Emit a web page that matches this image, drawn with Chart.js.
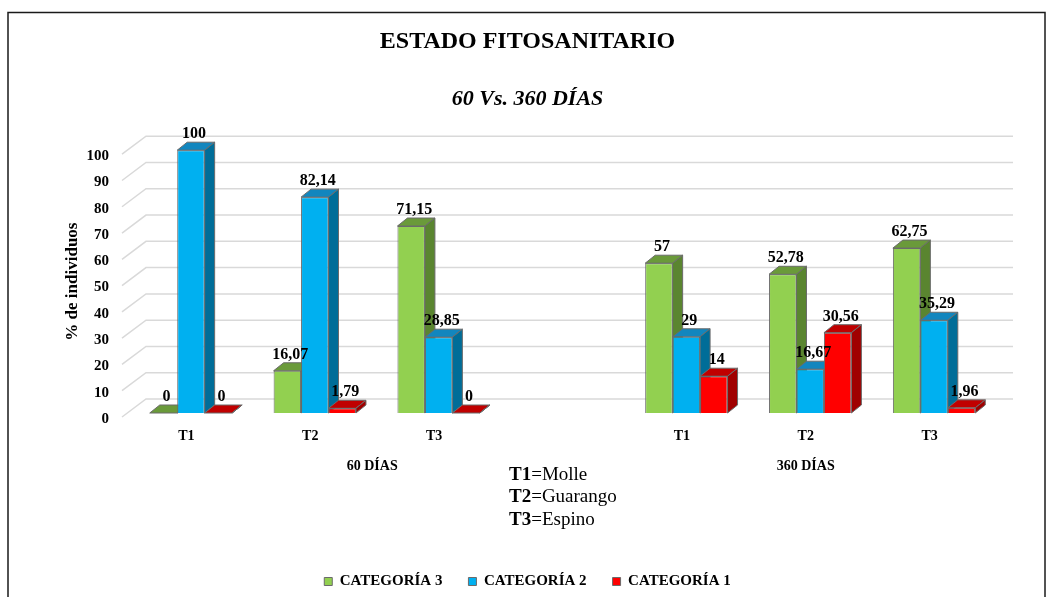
<!DOCTYPE html>
<html>
<head>
<meta charset="utf-8">
<title>Estado fitosanitario</title>
<script src="https://cdn.jsdelivr.net/npm/chart.js@4.4.1/dist/chart.umd.min.js"></script>
<style>
  html, body { margin: 0; padding: 0; background: #fff; }
  #wrap { width: 1055px; height: 597px; }
</style>
</head>
<body>
<div id="wrap"><canvas id="estadoChart"></canvas></div>
<script>
// datos
var categorias = ['T1', 'T2', 'T3', '', 'T1', 'T2', 'T3'];
var periodos = ['60 DÍAS', '360 DÍAS'];
var periodoCats = [4, 3];          // cuantas categorias abarca cada periodo
var cat3 = [0, 16.07, 71.15, null, 57, 52.78, 62.75];
var cat2 = [100, 82.14, 28.85, null, 29, 16.67, 35.29];
var cat1 = [0, 1.79, 0, null, 14, 30.56, 1.96];
var nombres = ['CATEGORÍA 3', 'CATEGORÍA 2', 'CATEGORÍA 1'];
var especies = [['T1', '=Molle'], ['T2', '=Guarango'], ['T3', '=Espino']];

var frente = ['#92D050', '#00B0F0', '#FF0000'];
var arriba = ['#6A9A3A', '#1286BE', '#C00000'];
var lado = ['#5A8530', '#006D98', '#A00000'];
var SERIF = '"Liberation Serif", "Times New Roman", serif';

// centros de cada periodo en unidades de categoria
var periodoCentros = [];
var acum = 0;
periodoCats.forEach(function (n) { periodoCentros.push(acum + n / 2); acum += n; });

var DX = 10, DY = 8;   // profundidad de las barras

var barras3d = {
  id: 'barras3d',
  beforeDatasetsDraw: function (chart) {
    var ctx = chart.ctx, a = chart.chartArea, y = chart.scales.y;
    ctx.save();
    // paredes / lineas de division
    ctx.strokeStyle = '#D9D9D9';
    ctx.lineWidth = 1.5;
    y.ticks.forEach(function (t) {
      var py = y.getPixelForValue(t.value);
      ctx.beginPath();
      ctx.moveTo(a.left - 7, py + 4);
      ctx.lineTo(a.left + 17, py - 14);
      ctx.lineTo(a.right + 17, py - 14);
      ctx.stroke();
    });
    // caras superior y lateral
    var lista = [];
    chart.data.datasets.forEach(function (ds, i) {
      chart.getDatasetMeta(i).data.forEach(function (b, j) {
        if (ds.data[j] === null) return;
        lista.push({ b: b, i: i });
      });
    });
    lista.sort(function (p, q) { return p.b.x - q.b.x; });
    ctx.strokeStyle = '#6B6B6B';
    ctx.lineWidth = 1;
    lista.forEach(function (it) {
      var b = it.b, w = b.width;
      var x0 = b.x - w / 2, x1 = b.x + w / 2, top = b.y, base = b.base;
      ctx.fillStyle = arriba[it.i];
      ctx.beginPath();
      ctx.moveTo(x0, top); ctx.lineTo(x0 + DX, top - DY);
      ctx.lineTo(x1 + DX, top - DY); ctx.lineTo(x1, top);
      ctx.closePath(); ctx.fill(); ctx.stroke();
      ctx.fillStyle = lado[it.i];
      ctx.beginPath();
      ctx.moveTo(x1, top); ctx.lineTo(x1 + DX, top - DY);
      ctx.lineTo(x1 + DX, base - DY); ctx.lineTo(x1, base);
      ctx.closePath(); ctx.fill(); ctx.stroke();
    });
    ctx.restore();
  },
  afterDatasetsDraw: function (chart) {
    var ctx = chart.ctx;
    ctx.save();
    ctx.font = 'bold 16px ' + SERIF;
    ctx.fillStyle = '#000';
    ctx.textAlign = 'center';
    ctx.textBaseline = 'middle';
    chart.data.datasets.forEach(function (ds, i) {
      chart.getDatasetMeta(i).data.forEach(function (b, j) {
        var v = ds.data[j];
        if (v === null) return;
        ctx.fillText(String(v).replace('.', ','), b.x + 3, b.y - 16);
      });
    });
    ctx.restore();
  },
  afterDraw: function (chart) {
    var ctx = chart.ctx;
    ctx.save();
    // leyenda de especies
    ctx.fillStyle = '#000';
    ctx.textBaseline = 'middle';
    ctx.textAlign = 'left';
    especies.forEach(function (e, k) {
      var yy = 475 + k * 22.5;
      ctx.font = 'bold 19px ' + SERIF;
      ctx.fillText(e[0], 509, yy);
      var w = ctx.measureText(e[0]).width;
      ctx.font = '19px ' + SERIF;
      ctx.fillText(e[1], 509 + w, yy);
    });
    // marco
    ctx.strokeStyle = '#1A1A1A';
    ctx.lineWidth = 1.5;
    ctx.strokeRect(8, 12.5, 1037, 620);
    ctx.restore();
  }
};

var ctx = document.getElementById('estadoChart').getContext('2d');
var estadoChart = new Chart(ctx, {
  type: 'bar',
  data: {
    labels: categorias,
    datasets: [
      { label: nombres[0], data: cat3, backgroundColor: frente[0], borderColor: '#6B6B6B', borderWidth: 1 },
      { label: nombres[1], data: cat2, backgroundColor: frente[1], borderColor: '#6B6B6B', borderWidth: 1 },
      { label: nombres[2], data: cat1, backgroundColor: frente[2], borderColor: '#6B6B6B', borderWidth: 1 }
    ]
  },
  options: {
    responsive: true,
    maintainAspectRatio: false,
    animation: false,
    datasets: { bar: { barPercentage: 1, categoryPercentage: 0.665, skipNull: false } },
    layout: { padding: 0 },
    plugins: {
      title: {
        display: true, text: 'ESTADO FITOSANITARIO', color: '#000',
        font: { family: SERIF, size: 24, weight: 'bold' },
        padding: { top: 27, bottom: 30 }
      },
      subtitle: {
        display: true, text: '60 Vs. 360 DÍAS', color: '#000',
        font: { family: SERIF, size: 22, weight: 'bold', style: 'italic' },
        padding: { top: 0, bottom: 38 }
      },
      legend: {
        position: 'bottom',
        maxHeight: 49,
        labels: {
          color: '#000', boxWidth: 8, boxHeight: 8, padding: 26,
          font: { family: SERIF, size: 15, weight: 'bold' }
        }
      },
      tooltip: { enabled: false }
    },
    scales: {
      x: {
        type: 'category',
        grid: { display: false, drawTicks: false }, border: { display: false },
        afterFit: function (s) { s.height = 32; },
        ticks: { color: '#000', padding: 15, labelOffset: -4.5, maxRotation: 0,
                 font: { family: SERIF, size: 14, weight: 'bold' } }
      },
      x2: {
        type: 'linear', position: 'bottom', weight: 1, offset: false,
        min: 0, max: categorias.length,
        grid: { display: false, drawTicks: false, offset: false }, border: { display: false },
        afterBuildTicks: function (s) {
          s.ticks = periodoCentros.map(function (v) { return { value: v }; });
        },
        afterFit: function (s) { s.height = 103; },
        ticks: {
          color: '#000', padding: 13, labelOffset: -4.5, autoSkip: false, maxRotation: 0,
          font: { family: SERIF, size: 14, weight: 'bold' },
          callback: function (v, i) { return periodos[i]; }
        }
      },
      y: {
        min: 0, max: 100,
        grid: { display: false, drawTicks: false }, border: { display: false },
        afterFit: function (s) { s.width = 129; },
        ticks: { stepSize: 10, color: '#000', padding: 20, labelOffset: 6,
                 font: { family: SERIF, size: 15, weight: 'bold' } },
        title: {
          display: true, text: '% de individuos', color: '#000',
          font: { family: SERIF, size: 17, weight: 'bold' },
          padding: { top: 62, bottom: 0 }
        }
      },
      yR: {
        type: 'linear', position: 'right', min: 0, max: 100,
        grid: { display: false, drawTicks: false }, border: { display: false },
        ticks: { display: false },
        afterFit: function (s) { s.width = 59; }
      }
    }
  },
  plugins: [barras3d]
});
</script>
</body>
</html>
